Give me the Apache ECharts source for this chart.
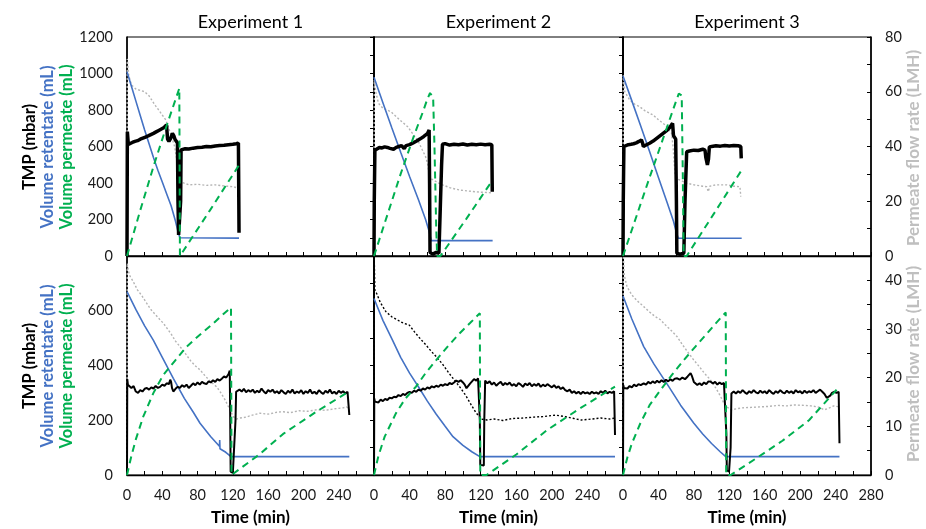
<!DOCTYPE html>
<html>
<head>
<meta charset="utf-8">
<script src="https://cdn.jsdelivr.net/npm/echarts@6/dist/echarts.min.js"></script>
<style>
html,body{margin:0;padding:0;background:#fff;}
#chart{width:926px;height:529px;}
</style>
</head>
<body>
<div id="chart"></div>
<script>
// ---------- labels ----------
const panelTitles = ['Experiment 1', 'Experiment 2', 'Experiment 3'];
const xAxisTitle = 'Time (min)';
const leftTitles = ['TMP (mbar)', 'Volume retentate (mL)', 'Volume permeate (mL)'];
const rightTitle = 'Permeate flow rate (LMH)';

// ---------- axis ranges / ticks ----------
const xRange = [0, 280]; const xTickStep = 20; const xLabelStep = 40;
const topLeftRange = [0, 1200]; const topLeftTick = 100; const topLeftLabel = 200;
const topRightRange = [0, 80]; const topRightTick = 10; const topRightLabel = 20;
const botLeftRange = [0, 800]; const botLeftTick = 100; const botLeftLabel = 200;
const botRightRange = [0, 45]; const botRightTick = 5; const botRightLabel = 10;

// ---------- TOP ROW : Experiment 1 ----------
const t1Retentate = [[0,1010],[5,930],[10,850],[15,770],[20,690],[25,615],[30,540],[35,470],[40,405],[45,340],[50,275],[55,190],[58,130],[60,100],[62,98],[127,98]];
const t1Permeate = [[0,0],[15,250],[30,490],[45,715],[59.3,919],[60,0],[61.5,0],[94,250],[127,498]];
const t1TMP = [[0,0],[0.4,681],[1.5,612],[3,619],[6,622],[9,628],[12,632],[15,640],[18,646],[21,652],[24,658],[27,665],[30,672],[33,680],[36,688],[39,696],[42,704],[44.8,718],[46,640],[47.5,628],[49.5,645],[51.5,672],[53,660],[54.5,638],[56,645],[57.2,620],[57.8,300],[58.5,115],[60,110],[60.8,300],[61.3,581],[63,584],[66,588],[70,586],[75,591],[80,594],[85,596],[90,600],[95,599],[100,603],[105,606],[110,607],[115,610],[120,612],[124,615],[126.3,619],[127,128]];
const t1Flux = [[0,0],[0.3,72],[2,66],[5,62.5],[10,61],[15,60.5],[20,60],[25,58.5],[28,57],[32,55],[36,53.3],[40,51.5],[44,49.7],[47,47],[50,44],[52,43.6],[54,40],[56,36],[58,32.6],[59.5,30],[60.5,28],[61.5,27],[62.5,26.5],[70,26],[80,26.2],[90,25.8],[100,26],[110,25.6],[120,25.3],[127,24.8]];

// ---------- TOP ROW : Experiment 2 ----------
const t2Retentate = [[0,979],[10,840],[20,703],[30,568],[40,436],[50,308],[58,200],[62,135],[64.3,84],[133.4,84]];
const t2Permeate = [[0,0],[15,225],[30,450],[45,660],[55,790],[60,860],[63,893],[65,895],[66.5,870],[68,600],[70,150],[71,0],[74.7,0],[104,205],[133.4,416]];
const t2TMP = [[0,0],[0.3,300],[1,580],[3,590],[6,595],[9,592],[12,598],[15,595],[18,590],[20,580],[22,585],[25,595],[28,600],[31,605],[33,600],[34,588],[36,605],[40,610],[44,620],[48,630],[52,642],[56,655],[60,670],[62,690],[62.5,400],[63,20],[66,10],[70,20],[73,15],[75,20],[76,500],[77,612],[80,616],[85,608],[90,612],[95,610],[100,614],[105,608],[110,612],[115,610],[120,613],[125,610],[130,612],[132.5,610],[133,352]];
const t2Flux = [[0,0],[0.3,64.3],[2,60],[5,55.8],[10,54],[19,52.7],[28,50],[38,47.2],[45,44],[49,42.4],[54,39],[58,36.3],[60,34],[62,30.2],[63,28.5],[68,27.5],[72,26.8],[77,26],[85,25],[96,24.1],[110,23.6],[120,23.3],[133,23.1]];

// ---------- TOP ROW : Experiment 3 ----------
const t3Retentate = [[0,986],[10,850],[20,712],[30,572],[40,430],[50,290],[57,190],[60.5,125],[62.4,97],[134,97]];
const t3Permeate = [[0,0],[15,215],[30,430],[45,640],[55,780],[60,850],[63,890],[65,900],[66.3,880],[67.5,450],[68.5,0],[71.9,0],[103,235],[134,471]];
const t3TMP = [[0,0],[0.3,300],[1,600],[3,605],[6,610],[9,612],[12,615],[15,620],[18,628],[20.8,636],[22,620],[23,600],[26,608],[30,618],[34,630],[38,645],[42,660],[46,675],[50,690],[53,705],[56,727],[57,660],[58.5,650],[59.5,640],[60.3,300],[60.8,15],[64,10],[68.7,15],[70,300],[71.9,571],[75,575],[80,580],[85,578],[90,585],[92.6,580],[93.5,540],[95.3,499],[96.5,530],[97.5,598],[100,600],[105,604],[110,602],[115,606],[120,603],[125,605],[130,604],[133,600],[133.5,535]];
const t3Flux = [[0,0],[0.3,66],[2,60],[7.6,57],[13,55.5],[18.9,54.5],[25,53],[34,51.5],[40,49.8],[47.3,47.9],[52,46],[54.9,44.8],[56.5,40],[58.7,30.2],[62,28],[66,27.5],[71.9,26.6],[80,26],[90,25.5],[94.5,25.3],[96.3,23.5],[98,25.5],[105,26],[117,26],[125,25.5],[132,25.3],[133,21.7]];

// ---------- BOTTOM ROW : Experiment 1 ----------
const b1Retentate = [[0,670],[10,605],[20,545],[29.8,493],[40,430],[52.5,353],[65,280],[75,230],[82.8,189],[95,140],[104.8,105],[105.1,128],[105.4,96],[106,101],[112,83],[117.9,67],[252,67]];
const b1Permeate = [[0,0],[5,70],[10,130],[18.4,213],[30,300],[41,365],[55,420],[67.7,469],[80,505],[97.9,554],[110,590],[117.9,612],[118.5,0],[120.5,0],[150,75],[177,150],[215,232],[251,304]];
const b1TMP = [[0,0],[0.3,350],[1,330],[2.5,335],[5,318],[7.5,325],[10,305],[12.5,300],[15,310],[17.5,305],[20,315],[22.5,318],[25,312],[27.5,320],[30,316],[32.5,325],[35,318],[37.5,322],[40,330],[42.5,326],[45,335],[47.5,332],[49,348],[50,340],[51,318],[52.5,305],[55,315],[57.5,322],[60,318],[62.5,328],[65,322],[67.5,330],[70,318],[72.5,326],[75,335],[77.5,328],[80,338],[82.5,330],[85,340],[87.5,335],[90,332],[92.5,342],[95,338],[97.5,346],[100,340],[102.5,350],[105,345],[107.5,352],[110,360],[112.5,356],[115,368],[116.5,381],[117,200],[117.5,12],[120,8],[122,15],[123,200],[123.7,304],[125,300],[127.5,312],[130,305],[132.5,315],[135,302],[137.5,310],[140,304],[142.5,312],[145,300],[147.5,308],[150,302],[152.5,316],[155,305],[157.5,298],[160,310],[162.5,304],[165,312],[167.5,300],[170,306],[172.5,298],[175,310],[177.5,302],[180,296],[182.5,308],[185,300],[187.5,312],[190,298],[192.5,305],[195,300],[197.5,310],[200,296],[202.5,306],[205,300],[207.5,312],[210,298],[212.5,304],[215,296],[217.5,310],[220,302],[222.5,296],[225,308],[227.5,300],[230,312],[232.5,298],[235,304],[237.5,296],[240,308],[242.5,300],[245,306],[247.5,298],[250,304],[251.5,300],[252,219]];
const b1Flux = [[0,0],[0.3,43.5],[1.5,42],[3,41],[7.2,39.7],[12,38],[17,36.8],[22.3,35.3],[27,34],[32,33],[37,32],[41.1,31.2],[46,30],[50,29],[55,27.5],[60,26.4],[66,25],[72,23.5],[77,22.5],[82.8,21.6],[88,20.5],[94,19.3],[101.7,18.1],[106,17],[111,15.5],[116.8,13.4],[120.5,12],[124,11.5],[128,11.7],[135,11.9],[142,12.3],[150.7,12.7],[160,12.5],[170,12.9],[177,13],[185,12.8],[195,13.2],[205,13.1],[215,13.4],[225,13.3],[235,13.6],[245,13.8],[249,14],[252,13.4]];

// ---------- BOTTOM ROW : Experiment 2 ----------
const b2Retentate = [[0,645],[10,565],[20.8,493],[30,430],[40,372],[51,317],[60,270],[70,222],[80,178],[88.8,140],[100,108],[110,85],[119,67],[271,67]];
const b2Permeate = [[0,0],[5,70],[12,140],[24.6,225],[35,278],[47.2,323],[58,372],[70,420],[83,470],[96.4,518],[108,555],[119,591],[119.5,0],[126.6,0],[160,75],[194.6,164],[230,240],[271,323]];
const b2TMP = [[0,0],[0.3,280],[1,268],[2.5,272],[5,265],[7.5,275],[10,270],[12.5,278],[15,274],[17.5,282],[20,280],[22.5,286],[25,284],[27.5,292],[30,288],[32.5,296],[35,292],[37.5,300],[40,304],[42.5,300],[45,308],[47.5,304],[50,312],[52.5,308],[55,316],[57.5,312],[60,320],[62.5,316],[65,324],[67.5,320],[70,326],[72.5,322],[75,330],[77.5,326],[80,332],[82.5,328],[85,336],[87.5,332],[90,338],[92.5,345],[95,340],[97.5,346],[100,338],[102,330],[104,317],[106,322],[108,334],[110,340],[112.5,350],[115,345],[117,353],[118.5,350],[119,200],[119.5,37],[121,30],[123.5,35],[124,200],[125,345],[127.5,335],[130,342],[132.5,330],[135,338],[137.5,326],[140,334],[142.5,340],[145,328],[147.5,336],[150,330],[152.5,338],[155,326],[157.5,332],[160,324],[162.5,336],[165,330],[167.5,322],[170,334],[172.5,328],[175,336],[177.5,324],[180,332],[182.5,326],[185,334],[187.5,322],[190,330],[192.5,324],[195,332],[197.5,326],[200,320],[202.5,328],[205,318],[207.5,324],[210,314],[212.5,320],[215,310],[217.5,306],[220,312],[222.5,300],[225,306],[227.5,298],[230,304],[232.5,296],[235,304],[237.5,298],[240,302],[242.5,296],[245,304],[247.5,298],[250,302],[252.5,296],[255,306],[257.5,300],[260,308],[262.5,298],[265,304],[267.5,300],[270,306],[271,146]];
const b2Flux = [[0,0],[0.2,45],[1,38],[3,37.3],[7,35.5],[13.2,33.6],[20,32.5],[27,31.8],[33,31.2],[39.7,30.8],[46,29.3],[52,28],[58,26.8],[64,25.5],[70,24.3],[77,22.8],[84,21],[90,19.6],[96.4,18.1],[103,16.4],[109,14.5],[115,12.7],[119,12],[120,11.5],[127,11.3],[135,11.5],[145,11.2],[155,11.6],[167,11.7],[180,11.9],[190,12],[204,12.3],[215,12],[225,11.6],[233,11.3],[245,11.5],[255,11.7],[265,11.5],[271,11.7]];

// ---------- BOTTOM ROW : Experiment 3 ----------
const b3Retentate = [[0,654],[10,570],[23.4,469],[35,405],[51.7,323],[65,255],[80,189],[90,150],[100,115],[110,84],[116,67],[244.4,67]];
const b3Permeate = [[0,0],[5,65],[10,115],[19.6,189],[30,255],[42.3,310],[55,365],[68.7,420],[82,470],[95.2,518],[105,555],[116,594],[116.5,0],[121.6,0],[150,60],[180,125],[210,200],[244.4,323]];
const b3TMP = [[0,0],[0.3,329],[1,318],[2.5,322],[5,316],[7.5,325],[10,320],[12.5,330],[15,324],[17.5,332],[20,328],[23.4,335],[26,330],[28.5,340],[31,334],[33.5,342],[36,336],[38.5,344],[41,338],[43.5,346],[46,340],[48.5,348],[51,342],[53.5,350],[56,344],[58.5,352],[61.2,353],[64,348],[67,356],[70,350],[73,360],[76.3,372],[78,360],[80,340],[83.9,329],[86.5,335],[89,328],[91.5,338],[94,332],[96.5,342],[99,341],[101.5,334],[104,340],[106.5,330],[109,338],[111.5,332],[114,336],[116,329],[116.7,150],[117.2,18],[119.7,12],[121.5,100],[122.4,298],[125,305],[127.5,298],[130,306],[132.5,300],[135,310],[137.5,302],[140,296],[142.5,306],[145,300],[147.5,310],[150,302],[152.5,298],[155,308],[157.5,300],[160,306],[162.5,298],[165,310],[167.5,302],[170,296],[172.5,306],[175,300],[177.5,310],[180,302],[182.5,298],[185,308],[187.5,300],[190,306],[192.5,298],[195,310],[197.5,302],[200,306],[202.5,298],[205,308],[207.5,300],[210,306],[212.5,302],[215,310],[217.5,300],[220,306],[222.5,312],[225,304],[227.5,296],[230,282],[232,280],[234,290],[236,300],[238.7,304],[241,300],[243.5,304],[244.4,116]];
const b3Flux = [[0,0],[0.3,45],[1.5,41],[4.5,38.7],[10,37],[16,35.8],[23.4,34.6],[30,33.5],[36,32.6],[42.3,31.9],[48,30.8],[55,29.6],[61.2,28.4],[67,26.8],[73,25.3],[80,23.6],[86,22.3],[92,20.9],[99,19.5],[105,17.8],[110,16.2],[114,14.7],[118,13.9],[121.6,13.4],[128,13.6],[135,13.8],[145,13.9],[155.6,14],[165,14.1],[175,14.3],[185,14.2],[193.4,14.4],[205,14.3],[212,14.2],[220,14],[227.4,13.4],[233,13.8],[238,14.2],[244.4,14]];

// ---------- assemble ----------
const panels = [
  {ret:t1Retentate, perm:t1Permeate, tmp:t1TMP, flux:t1Flux, fluxColor:'#B4B4B4'},
  {ret:t2Retentate, perm:t2Permeate, tmp:t2TMP, flux:t2Flux, fluxColor:'#B4B4B4'},
  {ret:t3Retentate, perm:t3Permeate, tmp:t3TMP, flux:t3Flux, fluxColor:'#B4B4B4'},
  {ret:b1Retentate, perm:b1Permeate, tmp:b1TMP, flux:b1Flux, fluxColor:'#B4B4B4'},
  {ret:b2Retentate, perm:b2Permeate, tmp:b2TMP, flux:b2Flux, fluxColor:'#000000'},
  {ret:b3Retentate, perm:b3Permeate, tmp:b3TMP, flux:b3Flux, fluxColor:'#B4B4B4'}
];

const FONT = 'Lato, "Open Sans", sans-serif';
const colLeft = [127, 374, 623];
const colWidth = [247, 249, 248];
const rowTop = [37, 256];
const rowHeight = 219;

const grids = [], xAxes = [], yAxes = [], series = [];
for (let i = 0; i < 6; i++) {
  const row = Math.floor(i / 3), col = i % 3;
  grids.push({left: colLeft[col], top: rowTop[row], width: colWidth[col], height: rowHeight,
    show: true, borderColor: '#000', borderWidth: 1, containLabel: false});
  xAxes.push({
    gridIndex: i, type: 'value', min: xRange[0], max: xRange[1], interval: xTickStep,
    axisLine: {show: true, onZero: false, lineStyle: {color: '#000', width: 1.3}},
    axisTick: {show: true, inside: true, length: 4, lineStyle: {color: '#000', width: 1}},
    splitLine: {show: false},
    axisLabel: {show: row === 1, margin: 13, fontSize: 14.5, color: '#1a1a1a', fontFamily: FONT,
      formatter: v => (v % xLabelStep === 0 && (v < xRange[1] || col === 2)) ? String(v) : ''}
  });
  const lr = row === 0 ? topLeftRange : botLeftRange;
  const lt = row === 0 ? topLeftTick : botLeftTick;
  const ll = row === 0 ? topLeftLabel : botLeftLabel;
  const rr = row === 0 ? topRightRange : botRightRange;
  const rt = row === 0 ? topRightTick : botRightTick;
  const rl = row === 0 ? topRightLabel : botRightLabel;
  yAxes.push({
    gridIndex: i, type: 'value', position: 'left', min: lr[0], max: lr[1], interval: lt,
    axisLine: {show: true, onZero: false, lineStyle: {color: '#000', width: 1.6}},
    axisTick: {show: col !== 0, inside: false, length: 4, lineStyle: {color: '#000'}},
    splitLine: {show: false},
    axisLabel: {show: col === 0, margin: 14, fontSize: 14.5, color: '#1a1a1a', fontFamily: FONT,
      formatter: v => (v % ll === 0 && (row === 0 || v < lr[1])) ? String(v) : ''}
  });
  yAxes.push({
    gridIndex: i, type: 'value', position: 'right', min: rr[0], max: rr[1], interval: rt,
    axisLine: {show: true, onZero: false, lineStyle: {color: '#000', width: 1.6}},
    axisTick: {show: col === 2, inside: true, length: 4, lineStyle: {color: '#000'}},
    splitLine: {show: false},
    axisLabel: {show: col === 2, margin: 14, fontSize: 14.5, color: '#1a1a1a', fontFamily: FONT,
      formatter: v => (v % rl === 0) ? String(v) : ''}
  });
  const p = panels[i];
  const base = {type: 'line', xAxisIndex: i, showSymbol: false, symbol: 'none', animation: false, silent: true};
  series.push(Object.assign({}, base, {yAxisIndex: 2 * i + 1, data: p.flux, z: 2,
    lineStyle: {color: p.fluxColor, width: 1.4, type: [2, 2]}}));
  series.push(Object.assign({}, base, {yAxisIndex: 2 * i, data: p.ret, z: 3,
    lineStyle: {color: '#4472C4', width: 1.6}}));
  series.push(Object.assign({}, base, {yAxisIndex: 2 * i, data: p.tmp, z: 4,
    lineStyle: {color: '#000', width: row === 0 ? 3.5 : 2}}));
  series.push(Object.assign({}, base, {yAxisIndex: 2 * i, data: p.perm, z: 5,
    lineStyle: {color: '#00B050', width: 2, type: [7, 5]}}));
}

const graphics = [];
const titleY = 22;
for (let c = 0; c < 3; c++) {
  graphics.push({type: 'text', x: colLeft[c] + colWidth[c] / 2, y: titleY,
    style: {text: panelTitles[c], fontSize: 18, fontFamily: FONT, fill: '#000', textAlign: 'center', textVerticalAlign: 'middle'}});
  graphics.push({type: 'text', x: colLeft[c] + colWidth[c] / 2, y: 518,
    style: {text: xAxisTitle, fontSize: 17, fontWeight: 'bold', fontFamily: FONT, fill: '#000', textAlign: 'center', textVerticalAlign: 'middle'}});
}
const leftColors = ['#000000', '#4472C4', '#00B050'];
const leftX = [30, 48, 67];
const rowMid = [147, 366];
for (let r = 0; r < 2; r++) {
  for (let k = 0; k < 3; k++) {
    graphics.push({type: 'text', x: leftX[k], y: rowMid[r], rotation: Math.PI / 2,
      style: {text: leftTitles[k], fontSize: 16.5, fontWeight: 'bold', fontFamily: FONT, fill: leftColors[k], textAlign: 'center', textVerticalAlign: 'middle'}});
  }
  graphics.push({type: 'text', x: 914, y: r === 0 ? 148 : 364, rotation: Math.PI / 2,
    style: {text: rightTitle, fontSize: 17, fontWeight: 'bold', fontFamily: FONT, fill: '#BFBFBF', textAlign: 'center', textVerticalAlign: 'middle'}});
}

const chart = echarts.init(document.getElementById('chart'), null, {renderer: 'canvas'});
chart.setOption({
  backgroundColor: '#fff',
  animation: false,
  grid: grids, xAxis: xAxes, yAxis: yAxes, series: series, graphic: graphics
});
</script>
</body>
</html>
